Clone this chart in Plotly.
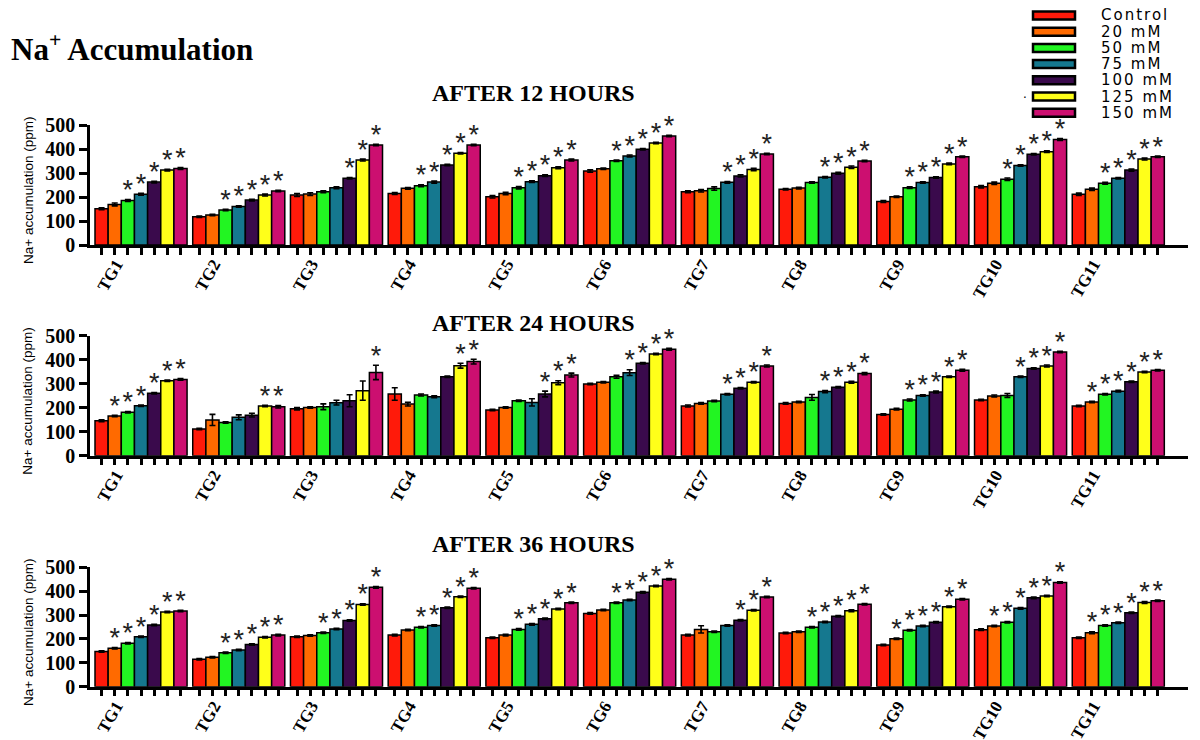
import plotly.graph_objects as go

# ---------------- data ----------------
groups = ["TG1", "TG2", "TG3", "TG4", "TG5", "TG6", "TG7", "TG8", "TG9", "TG10", "TG11"]
series = ["Control", "20 mM", "50 mM", "75 mM", "100 mM", "125 mM", "150 mM"]
colors = ["#FF1A0A", "#FF6A00", "#22F522", "#15788F", "#3A0A4C", "#FFFF1A", "#CC0F70"]
panel_titles = ["AFTER 12 HOURS", "AFTER 24 HOURS", "AFTER 36 HOURS"]
y_ticks = [0, 100, 200, 300, 400, 500]

# values per series (rows) across TG1..TG11
h12_values = [
    [151, 118, 208, 215, 201, 308, 222, 232, 181, 243, 211],
    [169, 125, 212, 236, 215, 318, 226, 237, 201, 257, 232],
    [185, 146, 222, 247, 239, 351, 235, 260, 239, 274, 257],
    [211, 160, 239, 262, 264, 371, 261, 282, 260, 331, 278],
    [262, 187, 278, 333, 289, 399, 288, 299, 281, 378, 312],
    [312, 208, 354, 382, 322, 425, 315, 324, 338, 389, 358],
    [319, 225, 417, 417, 354, 454, 379, 350, 368, 440, 368],
]
h12_errors = [
    [4, 3, 6, 4, 5, 5, 4, 3, 4, 5, 5],
    [6, 3, 6, 3, 5, 3, 5, 3, 3, 5, 5],
    [4, 3, 4, 4, 5, 3, 7, 3, 3, 5, 4],
    [4, 3, 4, 4, 3, 4, 3, 3, 3, 3, 3],
    [3, 3, 3, 3, 3, 3, 4, 4, 3, 3, 4],
    [3, 4, 4, 3, 4, 3, 5, 5, 3, 3, 4],
    [4, 3, 3, 3, 4, 3, 3, 3, 3, 4, 3],
]
h12_stars = [[2, 3, 4, 5, 6], [2, 3, 4, 5, 6], [4, 5, 6], [2, 3, 4, 5, 6], [2, 3, 4, 5, 6],
             [2, 3, 4, 5, 6], [3, 4, 5, 6], [3, 4, 5, 6], [2, 3, 4, 5, 6], [2, 3, 4, 5, 6],
             [2, 3, 4, 5, 6]]

h24_values = [
    [146, 111, 196, 257, 190, 299, 207, 218, 172, 232, 207],
    [165, 149, 201, 215, 201, 306, 218, 224, 194, 249, 224],
    [181, 138, 204, 253, 229, 329, 228, 243, 232, 251, 256],
    [208, 160, 221, 246, 222, 346, 256, 267, 251, 329, 269],
    [260, 169, 229, 329, 257, 385, 281, 285, 265, 363, 308],
    [312, 207, 271, 375, 304, 424, 306, 306, 329, 374, 349],
    [318, 204, 347, 392, 336, 444, 374, 342, 356, 432, 356],
]
h24_errors = [
    [4, 3, 5, 26, 3, 3, 4, 3, 3, 3, 3],
    [3, 23, 3, 8, 3, 3, 3, 3, 3, 4, 3],
    [3, 3, 12, 4, 3, 6, 3, 12, 4, 8, 3],
    [3, 10, 10, 4, 15, 12, 3, 4, 3, 3, 3],
    [3, 8, 25, 3, 12, 3, 3, 3, 4, 3, 3],
    [3, 3, 40, 10, 8, 3, 3, 4, 3, 4, 3],
    [3, 5, 30, 10, 8, 4, 4, 4, 4, 3, 3],
]
h24_stars = [[1, 2, 3, 4, 5, 6], [5, 6], [6], [5, 6], [4, 5, 6], [3, 4, 5, 6], [3, 4, 5, 6],
             [3, 4, 5, 6], [2, 3, 4, 5, 6], [3, 4, 5, 6], [1, 2, 3, 4, 5, 6]]

h36_values = [
    [147, 115, 209, 216, 205, 307, 216, 225, 175, 239, 205],
    [161, 123, 214, 237, 216, 321, 240, 230, 201, 254, 226],
    [182, 142, 226, 249, 240, 352, 230, 249, 236, 270, 256],
    [209, 154, 242, 256, 261, 363, 256, 271, 254, 328, 268],
    [258, 177, 277, 331, 285, 395, 278, 295, 270, 372, 310],
    [313, 207, 344, 377, 325, 422, 320, 318, 335, 380, 353],
    [317, 216, 416, 412, 352, 450, 376, 345, 366, 436, 360],
]
h36_errors = [
    [3, 3, 3, 3, 3, 3, 3, 3, 3, 3, 3],
    [3, 3, 3, 3, 3, 3, 15, 3, 3, 3, 4],
    [3, 3, 3, 3, 3, 3, 3, 3, 3, 3, 3],
    [3, 3, 3, 3, 3, 3, 3, 3, 3, 3, 3],
    [3, 3, 3, 3, 3, 3, 3, 3, 3, 3, 3],
    [3, 3, 3, 3, 3, 3, 3, 4, 3, 3, 4],
    [3, 3, 3, 3, 3, 3, 3, 3, 3, 3, 3],
]
h36_stars = [[1, 2, 3, 4, 5, 6], [2, 3, 4, 5, 6], [2, 3, 4, 5, 6], [2, 3, 4, 5, 6],
             [2, 3, 4, 5, 6], [2, 3, 4, 5, 6], [4, 5, 6], [2, 3, 4, 5, 6],
             [1, 2, 3, 4, 5, 6], [1, 2, 3, 4, 5, 6], [1, 2, 3, 4, 5, 6]]

# ---------------- layout helpers ----------------
W, H = 1200, 740
OX, OY = 8, 8          # page body margin offset
GROUP_PITCH = 7.43
LABEL_OFFSET = 1.1
STAR_GAP = 30          # data units between bar/error top and asterisk centre
X_RANGE = [-0.88, 82.6]
# pixel rows of (top of 500, bottom 0) for each panel, in page pixels
panel_px = [(125, 245), (335.7, 455.7), (567.3, 686.7)]
title_px = [93, 323, 544]

def px_(x):
    return (x - OX) / W

def py(y):
    return (H - (y - OY)) / H

X_DOMAIN = [px_(90), px_(1188)]

def xpos(g, j):
    return g * GROUP_PITCH + j

serif_bold = dict(family="Liberation Serif, Times New Roman, serif", color="black", weight="bold")

fig = go.Figure()
panels = [(h12_values, h12_errors, h12_stars),
          (h24_values, h24_errors, h24_stars),
          (h36_values, h36_errors, h36_stars)]

bar_x = [xpos(g, j) for g in range(len(groups)) for j in range(len(series))]
label_x = [xpos(g, LABEL_OFFSET) for g in range(len(groups))]

for p, (vals, errs, stars) in enumerate(panels):
    xa = "x" if p == 0 else f"x{p + 1}"
    ya = "y" if p == 0 else f"y{p + 1}"
    for j, name in enumerate(series):
        fig.add_trace(go.Bar(
            x=[xpos(g, j) for g in range(len(groups))], y=vals[j], width=1.0,
            marker=dict(color=colors[j], line=dict(color="black", width=1.5)),
            error_y=dict(type="data", array=errs[j], color="black", thickness=1.6, width=3),
            name=name, showlegend=False, xaxis=xa, yaxis=ya))
    sx, sy = [], []
    for g in range(len(groups)):
        for j in stars[g]:
            sx.append(xpos(g, j))
            sy.append(vals[j][g] + errs[j][g] + STAR_GAP)
    fig.add_trace(go.Scatter(
        x=sx, y=sy, mode="text", text=["*"] * len(sx), textposition="middle center",
        textfont=dict(family="Liberation Sans, Arial, sans-serif", size=27, color="#222"),
        cliponaxis=False, showlegend=False, hoverinfo="skip", xaxis=xa, yaxis=ya))

    top, bottom = panel_px[p]
    xkey = "xaxis" if p == 0 else f"xaxis{p + 1}"
    ykey = "yaxis" if p == 0 else f"yaxis{p + 1}"
    fig.layout[xkey] = dict(
        domain=X_DOMAIN, range=X_RANGE, anchor=ya, automargin=False, showline=True,
        linecolor="black", linewidth=2.5, showgrid=False, zeroline=False, tickmode="array",
        tickvals=label_x, ticktext=groups, ticks="", tickangle=-60,
        tickfont=dict(size=17, **serif_bold),
        minor=dict(tickmode="array", tickvals=bar_x, ticks="outside", ticklen=7,
                   tickwidth=3, tickcolor="black", showgrid=False))
    fig.layout[ykey] = dict(
        domain=[py(bottom), py(top)], range=[0, 500], anchor=xa, automargin=False,
        showline=True, linecolor="black", linewidth=2.5, showgrid=False, zeroline=False,
        tickmode="array", tickvals=y_ticks, ticks="outside", ticklen=8, tickwidth=2.5,
        tickcolor="black", tickfont=dict(size=20, **serif_bold))
    fig.add_annotation(
        x=px_(28), y=py((top + bottom) / 2 + 6), xref="paper", yref="paper",
        xanchor="center", yanchor="middle",
        text="Na+ accumulation (ppm)", textangle=-90, showarrow=False,
        font=dict(family="Liberation Sans, Arial, sans-serif", size=13.5, color="black"))
    fig.add_annotation(
        x=px_(533), y=py(title_px[p]), xref="paper", yref="paper", text=panel_titles[p],
        showarrow=False, xanchor="center", yanchor="middle", font=dict(size=24, **serif_bold))

# main title
fig.add_annotation(x=px_(9), y=py(47), xref="paper", yref="paper",
                   text="Na<sup>+</sup> Accumulation", showarrow=False,
                   xanchor="left", yanchor="middle", font=dict(size=31, **serif_bold))

# legend drawn as wide swatches
for i, name in enumerate(series):
    cy = 15.5 + i * 16.2
    fig.add_shape(type="rect", xref="paper", yref="paper",
                  x0=px_(1033), x1=px_(1075), y0=py(cy + 4), y1=py(cy - 4),
                  line=dict(color="black", width=2.5), fillcolor=colors[i])
    fig.add_annotation(x=px_(1099), y=py(cy), xref="paper", yref="paper",
                       text=f'<span style="letter-spacing:2px">{name}</span>',
                       showarrow=False, xanchor="left", yanchor="middle",
                       font=dict(family="DejaVu Sans, Arial, sans-serif", size=15, color="black"))
# stray dot beside the 125 mM legend entry
fig.add_annotation(x=px_(1025), y=py(94), xref="paper", yref="paper", text=".",
                   showarrow=False, xanchor="center", yanchor="middle",
                   font=dict(family="DejaVu Sans, Arial, sans-serif", size=12, color="black"))

fig.update_layout(
    template="none", width=W, height=H, margin=dict(l=0, r=0, t=0, b=0, pad=0),
    paper_bgcolor="white", plot_bgcolor="white", barmode="overlay", showlegend=False)

fig.write_html("out.html")
